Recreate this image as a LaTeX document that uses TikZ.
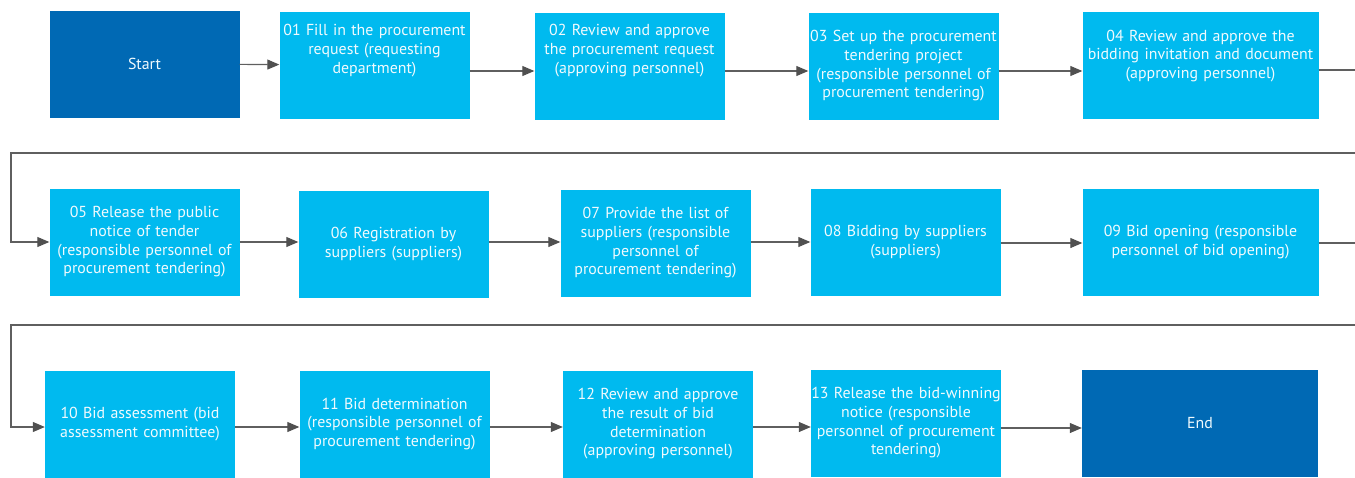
\documentclass[tikz,border=0pt]{standalone}
\usepackage{fontspec}
\setmainfont{PT Sans}
\usetikzlibrary{arrows.meta}
\usetikzlibrary{calc}

\definecolor{endblue}{HTML}{0069B4}
\definecolor{stepblue}{HTML}{00BAEF}
\definecolor{linegray}{HTML}{5F5F5F}
\definecolor{tipgray}{HTML}{505050}

\tikzset{
  box/.style={rectangle, fill=stepblue, inner sep=0pt, text=white!94!cyan,
    minimum width=190pt, minimum height=107pt, text width=190pt, align=center,
    font=\fontsize{15.9}{18.7}\selectfont},
  wide/.style={minimum width=236pt, text width=236pt},
  terminal/.style={box, fill=endblue},
  lift/.style={text depth=#1},
  flow/.style={draw=linegray, line width=1.1pt,
    -{Triangle[length=12pt, width=10pt, color=tipgray]}},
  wrap/.style={draw=linegray, line width=1.1pt}
}

\begin{document}
\begin{tikzpicture}[x=1pt, y=-1pt]
    \useasboundingbox (0,0) rectangle (1355,477);

    % first row
    \node[terminal] (start) at (144.5,64) {Start};
    \node[box, lift=70pt] (1) at (374.5,65) {01 Fill in the procurement\\request (requesting\\department)};
    \node[box, lift=72pt] (2) at (629.5,66) {02 Review and approve\\the procurement request\\(approving personnel)};
    \node[box] (3) at (903.5,66) {03 Set up the procurement\\tendering project\\(responsible personnel of\\procurement tendering)};
    \node[box, wide, lift=59pt] (4) at (1200.5,65) {04 Review and approve the\\bidding invitation and document\\(approving personnel)};

    % second row
    \node[box] (5) at (144.5,242) {05 Release the public\\notice of tender\\(responsible personnel of\\procurement tendering)};
    \node[box] (6) at (393.5,244) {06 Registration by\\suppliers (suppliers)};
    \node[box] (7) at (655.5,243) {07 Provide the list of\\suppliers (responsible\\personnel of\\procurement tendering)};
    \node[box] (8) at (905.5,242) {08 Bidding by suppliers\\(suppliers)};
    \node[box, wide] (9) at (1200.5,242) {09 Bid opening (responsible\\personnel of bid opening)};

    % third row
    \node[box] (10) at (140,424) {10 Bid assessment (bid\\assessment committee)};
    \node[box] (11) at (394.5,424) {11 Bid determination\\(responsible personnel of\\procurement tendering)};
    \node[box] (12) at (658,424) {12 Review and approve\\the result of bid\\determination\\(approving personnel)};
    \node[box] (13) at (906,423) {13 Release the bid-winning\\notice (responsible\\personnel of procurement\\tendering)};
    \node[terminal, wide] (finish) at (1200,423) {End};

    % loose ends at the right margin
    \coordinate (r1) at (1355,70);
    \coordinate (r2) at (1355,243);
    \coordinate (w1) at (1355,153);
    \coordinate (l1) at (11,153);
    \coordinate (w2) at (1355,325);
    \coordinate (l2) at (11,325);

    \draw[flow] (start) -- (1);
    \draw[flow] (1.east |- 0,71) -- (2.west |- 0,71);
    \draw[flow] (2.east |- 0,71) -- (3.west |- 0,71);
    \draw[flow] (3.east |- 0,71) -- (4.west |- 0,71);
    \draw[wrap] (4.east |- r1) -- (r1);
    \draw[flow] (w1) -- (l1) |- (5.west);

    \draw[flow] (5) -- (6.west |- 5);
    \draw[flow] (6.east |- 5) -- (7.west |- 5);
    \draw[flow] (7.east |- 5) -- (8.west |- 5);
    \draw[flow] (8.east |- r2) -- (9.west |- r2);
    \draw[wrap] (9.east |- r2) -- (r2);
    \draw[flow] (w2) -- (l2) |- (10.west |- 0,427);

    \draw[flow] (10.east |- 0,427) -- (11.west |- 0,427);
    \draw[flow] (11.east |- 0,427) -- (12.west |- 0,427);
    \draw[flow] (12.east |- 0,427) -- (13.west |- 0,427);
    \draw[flow] (13.east |- 0,428) -- (finish.west |- 0,428);
\end{tikzpicture}
\end{document}
